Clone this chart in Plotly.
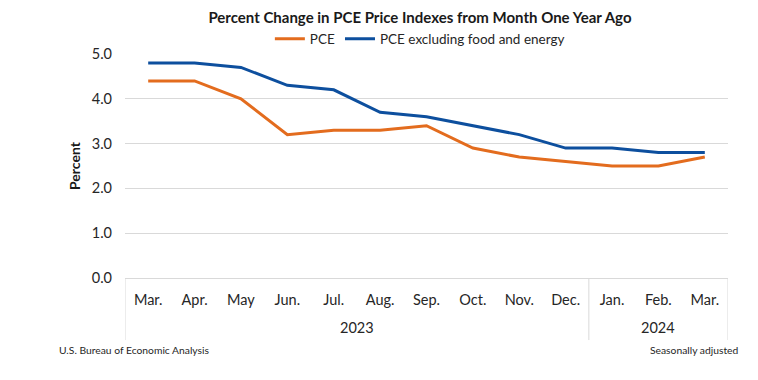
import plotly.graph_objects as go

months = ["Mar.", "Apr.", "May", "Jun.", "Jul.", "Aug.", "Sep.", "Oct.", "Nov.", "Dec.", "Jan.", "Feb.", "Mar."]
years = ["2023", "2024"]
year_spans = [(0, 9), (10, 12)]
pce = [4.4, 4.4, 4.0, 3.2, 3.3, 3.3, 3.4, 2.9, 2.7, 2.6, 2.5, 2.5, 2.7]
core = [4.8, 4.8, 4.7, 4.3, 4.2, 3.7, 3.6, 3.4, 3.2, 2.9, 2.9, 2.8, 2.8]
yticks = [0, 1, 2, 3, 4, 5]

FONT = "Lato, 'Liberation Sans', sans-serif"
x = list(range(len(months)))

fig = go.Figure()
fig.add_trace(go.Scatter(x=x, y=pce, mode="lines", name="PCE",
                         line=dict(color="#E36C1E", width=3)))
fig.add_trace(go.Scatter(x=x, y=core, mode="lines", name="PCE excluding food and energy",
                         line=dict(color="#0D4F9E", width=3)))

# separators and year labels
seps = [-0.5, 9.5, 12.5]
for s in seps:
    fig.add_shape(type="line", xref="x", yref="paper", x0=s, x1=s, y0=-0.277, y1=0.0,
                  line=dict(color="#D9D9D9", width=1))
for yr, (a, b) in zip(years, year_spans):
    fig.add_annotation(x=(a + b) / 2, xref="x", y=-0.223, yref="paper", yanchor="middle", text=yr,
                       showarrow=False, font=dict(size=14.5, color="#262626", family=FONT))

fig.add_annotation(x=-0.112, xref="paper", xanchor="left", y=-0.322, yref="paper", yanchor="middle",
                   text="U.S. Bureau of Economic Analysis", showarrow=False,
                   font=dict(size=10.3, color="#262626", family=FONT))
fig.add_annotation(x=1.02, xref="paper", xanchor="right", y=-0.322, yref="paper", yanchor="middle",
                   text="Seasonally adjusted", showarrow=False,
                   font=dict(size=10.3, color="#262626", family=FONT))

# page body has an 8px default margin, so shift the figure margins accordingly
fig.update_layout(
    width=758, height=380,
    margin=dict(l=117, r=38, t=46, b=110, autoexpand=False),
    paper_bgcolor="white", plot_bgcolor="white",
    font=dict(family=FONT, color="#262626"),
    title=dict(text="<b>Percent Change in PCE Price Indexes from Month One Year Ago</b>",
               x=0.5435, xanchor="center", y=0.974, yanchor="middle",
               font=dict(size=15, color="#1a1a1a", family=FONT)),
    legend=dict(orientation="h", x=0.489, xanchor="center", y=1.067, yanchor="middle",
                font=dict(size=13.5, color="#262626", family=FONT),
                itemwidth=30, tracegroupgap=0, bgcolor="rgba(0,0,0,0)"),
    showlegend=True,
)
fig.update_xaxes(range=[-0.5, 12.5], tickvals=x, ticktext=months, showgrid=False,
                 zeroline=False, showline=True, linecolor="#D9D9D9", ticks="",
                 tickfont=dict(size=14.5, color="#262626", family=FONT), ticklabelstandoff=9,
                 automargin=False)
fig.update_yaxes(range=[0, 5], tickvals=yticks, ticktext=[f"{v:.1f}" for v in yticks],
                 showgrid=True, gridcolor="#D9D9D9", gridwidth=1, zeroline=False,
                 tickfont=dict(size=14.5, color="#262626", family=FONT), ticklabelstandoff=12,
                 automargin=False,
                 title=dict(text="<b>Percent</b>", font=dict(size=14, color="#1a1a1a", family=FONT),
                            standoff=7))

fig.write_html("out.html")
